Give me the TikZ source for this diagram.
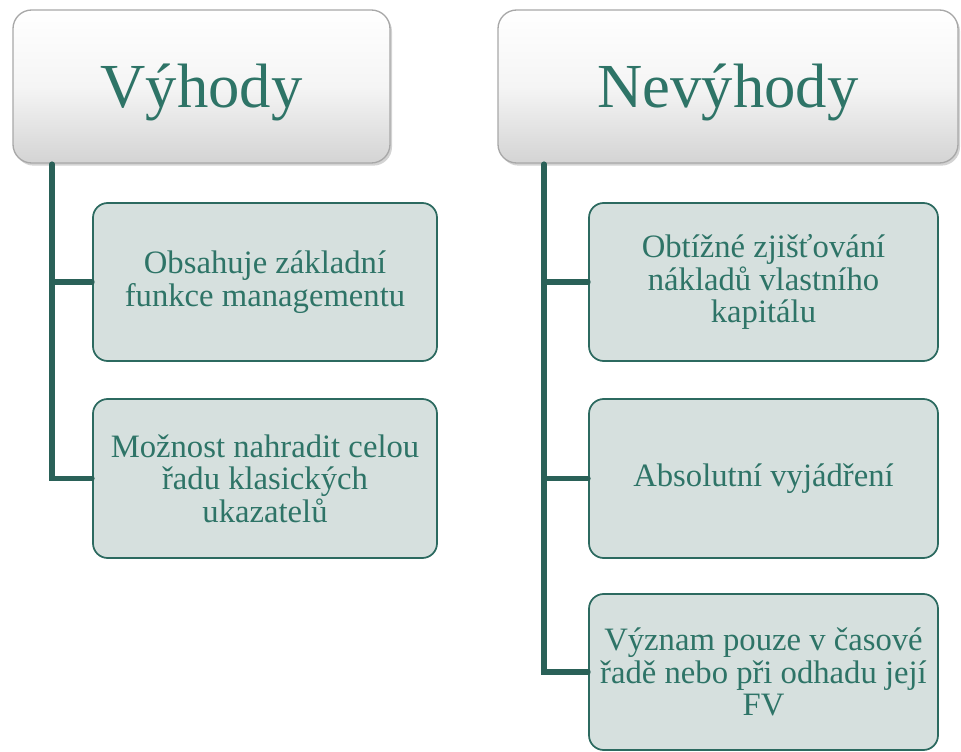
\documentclass[tikz,border=0pt]{standalone}
\usepackage{fontspec}
\setmainfont{Liberation Serif}
\usetikzlibrary{shadows}
\definecolor{teal1}{HTML}{2E7467}
\definecolor{line1}{HTML}{2A6158}
\definecolor{boxfill}{HTML}{D6E0DE}
\definecolor{boxedge}{HTML}{2C6A60}
\definecolor{hedge}{HTML}{A8A8A8}
\tikzset{
  header/.style={draw=hedge, line width=1pt, rounded corners=14pt,
    top color=white, bottom color=black!17, middle color=black!4,
    drop shadow={shadow xshift=1.5pt, shadow yshift=-2pt, opacity=0.35},
    text=teal1, font=\fontsize{47}{50}\selectfont, inner sep=0pt,
    text height=40pt, text depth=9pt},
  child/.style={draw=boxedge, line width=1.3pt, rounded corners=11pt,
    fill=boxfill, text=teal1, align=center,
    font=\fontsize{24.5}{24.5}\selectfont, inner sep=0pt},
  conn/.style={draw=line1, line width=3.8pt, line cap=round}
}
\begin{document}
\begin{tikzpicture}[x=0.75pt,y=-0.75pt]
\useasboundingbox (0,0) rectangle (961,752);
\node[header, minimum width=282.75pt, minimum height=114.75pt] (H1) at (201.5,86.5) {Výhody};
\node[header, minimum width=345pt, minimum height=114.75pt] (H2) at (728,86.5) {Nevýhody};

\node[child, minimum width=258pt, minimum height=118.5pt] (L1) at (265,282) {Obsahuje základní\\funkce managementu};
\node[child, minimum width=258pt, minimum height=119.25pt] (L2) at (265,478.5) {Možnost nahradit celou\\řadu klasických\\ukazatelů};

\node[child, minimum width=261.75pt, minimum height=118.5pt] (R1) at (763.5,282) {Obtížné zjišťování\\nákladů vlastního\\kapitálu};
\node[child, minimum width=261.75pt, minimum height=119.25pt] (R2) at (763.5,478.5) {Absolutní vyjádření};
\node[child, minimum width=261.75pt, minimum height=117pt] (R3) at (763.5,672) {Význam pouze v časové\\řadě nebo při odhadu její\\FV};

\coordinate (t1) at (52,164);
\coordinate (t2) at (544,164);
\draw[conn] (t1) |- (L2.west);
\draw[conn] (t1 |- L1.west) -- (L1.west);
\draw[conn] (t2) |- (R3.west);
\draw[conn] (t2 |- R1.west) -- (R1.west);
\draw[conn] (t2 |- R2.west) -- (R2.west);
\end{tikzpicture}
\end{document}
